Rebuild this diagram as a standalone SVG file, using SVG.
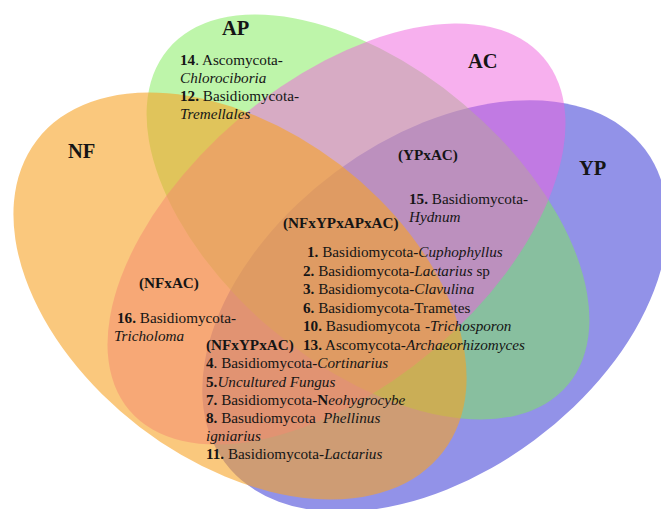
<svg xmlns="http://www.w3.org/2000/svg" width="661" height="509" viewBox="0 0 661 509">
<style>
text{font-family:"Liberation Serif","Times New Roman",serif;font-size:15.2px;fill:#151515}
.set{font-size:20.5px;font-weight:bold}
.b{font-weight:bold}
.i{font-style:italic}
</style>
<rect width="661" height="509" fill="#ffffff"/>
<g id="YP"><ellipse cx="435" cy="306" rx="262" ry="167" transform="rotate(-36.6 435 306)" fill="#9292E8"/></g>
<g id="AP"><ellipse cx="368" cy="217" rx="261" ry="148" transform="rotate(40 368 217)" fill="#7DEB55" fill-opacity="0.5"/></g>
<g id="AC"><ellipse cx="336.5" cy="234" rx="272" ry="151" transform="rotate(-40.45 336.5 234)" fill="#EF61DD" fill-opacity="0.5"/></g>
<g id="NF"><ellipse cx="240" cy="296" rx="256" ry="165" transform="rotate(37.5 240 296)" fill="#F7A326" fill-opacity="0.6"/></g>

<g id="labels">
<text class="set" x="222" y="35">AP</text>
<text class="set" x="468" y="68">AC</text>
<text class="set" x="68" y="158">NF</text>
<text class="set" x="579" y="175">YP</text>
</g>

<g id="AP-only">
<text x="180" y="65"><tspan class="b">14</tspan>. Ascomycota-</text>
<text x="180" y="83" class="i">Chlorociboria</text>
<text x="180" y="101"><tspan class="b">12.</tspan> Basidiomycota-</text>
<text x="180" y="119" class="i">Tremellales</text>
</g>

<g id="YPxAC">
<text x="398" y="160" class="b">(YPxAC)</text>
<text x="409" y="204"><tspan class="b">15.</tspan> Basidiomycota-</text>
<text x="409" y="222" class="i">Hydnum</text>
</g>

<g id="NFxYPxAPxAC">
<text x="283" y="228" class="b">(NFxYPxAPxAC)</text>
<text x="307" y="257"><tspan class="b">1.</tspan> Basidiomycota-<tspan class="i">Cuphophyllus</tspan></text>
<text x="303" y="275.5"><tspan class="b">2.</tspan> Basidiomycota-<tspan class="i">Lactarius</tspan> sp</text>
<text x="303" y="294"><tspan class="b">3.</tspan> Basidiomycota-<tspan class="i">Clavulina</tspan></text>
<text x="303" y="312.5"><tspan class="b">6.</tspan> Basidiomycota-Trametes</text>
<text x="303" y="331"><tspan class="b">10.</tspan> Basudiomycota<tspan x="425">-</tspan><tspan class="i">Trichosporon</tspan></text>
<text x="303" y="349.5"><tspan class="b">13.</tspan> Ascomycota-<tspan class="i">Archaeorhizomyces</tspan></text>
</g>

<g id="NFxAC">
<text x="139" y="288" class="b">(NFxAC)</text>
<text x="117" y="323"><tspan class="b">16.</tspan> Basidiomycota-</text>
<text x="114" y="341" class="i">Tricholoma</text>
</g>

<g id="NFxYPxAC">
<text x="206" y="350" class="b">(NFxYPxAC)</text>
<text x="206" y="368"><tspan class="b">4</tspan>. Basidiomycota-<tspan class="i">Cortinarius</tspan></text>
<text x="206" y="386.5"><tspan class="b">5.</tspan><tspan class="i">Uncultured Fungus</tspan></text>
<text x="206" y="405"><tspan class="b">7.</tspan> Basidiomycota-<tspan class="b">N</tspan><tspan class="i">eohygrocybe</tspan></text>
<text x="206" y="423"><tspan class="b">8.</tspan> Basudiomycota<tspan x="323" class="i">Phellinus</tspan></text>
<text x="206" y="441" class="i">igniarius</text>
<text x="206" y="459"><tspan class="b">11.</tspan> Basidiomycota-<tspan class="i">Lactarius</tspan></text>
</g>
</svg>
